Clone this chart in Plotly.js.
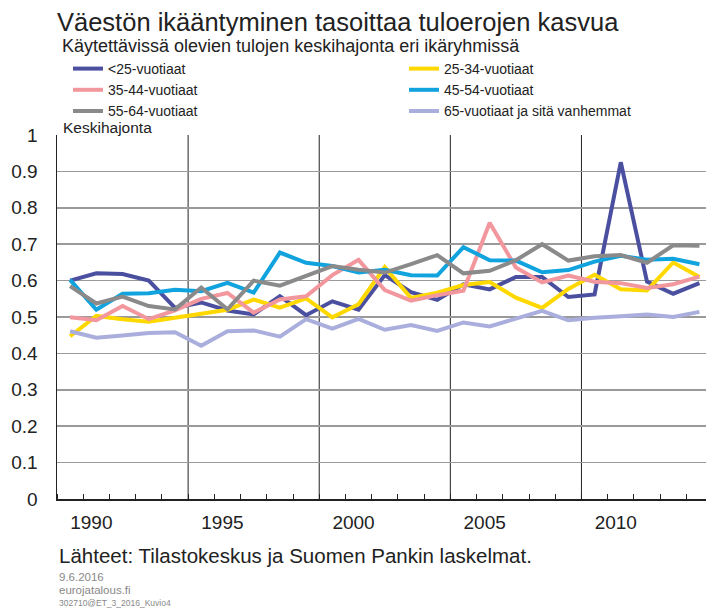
<!DOCTYPE html>
<html>
<head>
<meta charset="utf-8">
<script src="https://cdn.plot.ly/plotly-3.0.1.min.js"></script>
<style>
html,body{margin:0;padding:0;background:#fff;}
#chart{width:706px;height:610px;}
</style>
</head>
<body>
<div id="chart"></div>
<script>
// vuodet 1989-2013
var years = [];
for (var y = 1989; y <= 2013; y++) { years.push(y); }

var alle25  = [0.600,0.620,0.618,0.600,0.525,0.540,0.518,0.507,0.557,0.505,0.543,0.520,0.615,0.568,0.547,0.590,0.576,0.610,0.610,0.555,0.562,0.925,0.597,0.564,0.593];
var v25_34  = [0.447,0.503,0.494,0.487,0.498,0.508,0.520,0.548,0.526,0.551,0.499,0.535,0.637,0.552,0.567,0.588,0.596,0.553,0.525,0.577,0.616,0.576,0.573,0.650,0.610];
var v35_44  = [0.499,0.491,0.530,0.494,0.518,0.550,0.566,0.512,0.548,0.557,0.615,0.657,0.574,0.545,0.560,0.572,0.759,0.636,0.595,0.614,0.597,0.593,0.580,0.590,0.611];
var v45_54  = [0.602,0.520,0.564,0.565,0.575,0.571,0.594,0.567,0.677,0.649,0.640,0.622,0.630,0.615,0.614,0.692,0.656,0.655,0.623,0.629,0.652,0.668,0.657,0.660,0.645];
var v55_64  = [0.585,0.537,0.556,0.530,0.521,0.581,0.521,0.600,0.586,0.612,0.640,0.630,0.622,0.645,0.670,0.620,0.627,0.656,0.700,0.655,0.667,0.670,0.649,0.697,0.696];
var yli65   = [0.461,0.443,0.449,0.456,0.458,0.421,0.461,0.463,0.446,0.494,0.468,0.495,0.465,0.478,0.462,0.485,0.474,0.495,0.517,0.491,0.498,0.502,0.507,0.500,0.514];

var names  = ['<25-vuotiaat','25-34-vuotiaat','35-44-vuotiaat','45-54-vuotiaat','55-64-vuotiaat','65-vuotiaat ja sitä vanhemmat'];
var series = [alle25, v25_34, v35_44, v45_54, v55_64, yli65];
var colors = ['#4b4f9f','#ffd800','#f2979d','#10a3de','#8a8a8a','#aaaedc'];
// vasen sarake legend, oikea legend2
var legendOf = ['legend','legend2','legend','legend2','legend','legend2'];

var yTickVals = [0,0.1,0.2,0.3,0.4,0.5,0.6,0.7,0.8,0.9,1];
var yTickText = ['0','0.1','0.2','0.3','0.4','0.5','0.6','0.7','0.8','0.9','1'];
var xTickVals = [1990,1995,2000,2005,2010];
// pystyviivat vuosien välissä
var vLines = [1993.5,1998.5,2003.5,2008.5];

var font = 'Liberation Sans, Arial, sans-serif';

// pikseli -> paper
var L = 57, R = 706, T = 135, B = 499;
function py(p){ return (B - p)/(B - T); }

var traces = [];
for (var i = 0; i < series.length; i++) {
    traces.push({
        x: years,
        y: series[i],
        type: 'scatter',
        mode: 'lines',
        name: names[i],
        legend: legendOf[i],
        line: {color: colors[i], width: 4}
    });
}

var shapes = vLines.map(function(v){
    return {type:'line', xref:'x', yref:'paper', x0:v, x1:v, y0:0, y1:1,
            line:{color:'#222', width:1}, layer:'below'};
});

var legendBase = {
    xref: 'container', yref: 'container',
    xanchor: 'left', y: 1 - 53/610, yanchor: 'top',
    font: {size: 14, color: '#222'},
    bgcolor: 'rgba(0,0,0,0)', traceorder: 'normal'
};

var layout = {
    width: 706, height: 610,
    margin: {l: L, r: 0, t: T, b: 610 - B, autoexpand: false},
    paper_bgcolor: '#fff', plot_bgcolor: '#fff',
    font: {family: font, color: '#222'},
    showlegend: true,
    title: {
        text: 'Väestön ikääntyminen tasoittaa tuloerojen kasvua',
        font: {size: 25.5, color: '#222'},
        xref: 'container', yref: 'container',
        x: 57/706, xanchor: 'left', y: 1 - 22/610, yanchor: 'middle'
    },
    legend: Object.assign({}, legendBase, {x: 68/706}),
    legend2: Object.assign({}, legendBase, {x: 404/706}),
    xaxis: {
        range: [1988.5, 2013.25],
        tickvals: xTickVals,
        ticks: '',
        showgrid: false, zeroline: false,
        showline: true, linecolor: '#222', linewidth: 1.5,
        tickfont: {size: 19, color: '#222'},
        ticklabelshift: -5, ticklabelstandoff: 6,
        minor: {tick0: 1988.5, dtick: 1, ticks: 'inside', ticklen: 5, tickcolor: '#222', tickwidth: 1, showgrid: false}
    },
    yaxis: {
        range: [0, 1],
        tickvals: yTickVals, ticktext: yTickText,
        ticks: '',
        showgrid: true, gridcolor: '#9a9a9a', gridwidth: 1.5,
        zeroline: false,
        showline: true, linecolor: '#222', linewidth: 1.5,
        tickfont: {size: 19, color: '#222'},
        ticklabelstandoff: 14
    },
    shapes: shapes,
    annotations: [
        {text: 'Käytettävissä olevien tulojen keskihajonta eri ikäryhmissä', xref: 'paper', yref: 'paper',
         x: 3/649, y: py(46), xanchor: 'left', yanchor: 'middle', showarrow: false,
         font: {size: 18, color: '#222'}},
        {text: 'Keskihajonta', xref: 'paper', yref: 'paper',
         x: 4/649, y: py(127), xanchor: 'left', yanchor: 'middle', showarrow: false,
         font: {size: 15.5, color: '#222'}},
        {text: 'Lähteet: Tilastokeskus ja Suomen Pankin laskelmat.', xref: 'paper', yref: 'paper',
         x: 0, y: py(555), xanchor: 'left', yanchor: 'middle', showarrow: false,
         font: {size: 20.5, color: '#222'}},
        {text: '9.6.2016', xref: 'paper', yref: 'paper',
         x: 0, y: py(577), xanchor: 'left', yanchor: 'middle', showarrow: false,
         font: {size: 11.5, color: '#888'}},
        {text: 'eurojatalous.fi', xref: 'paper', yref: 'paper',
         x: 0, y: py(590), xanchor: 'left', yanchor: 'middle', showarrow: false,
         font: {size: 11.5, color: '#888'}},
        {text: '302710@ET_3_2016_Kuvio4', xref: 'paper', yref: 'paper',
         x: 0, y: py(603), xanchor: 'left', yanchor: 'middle', showarrow: false,
         font: {size: 8.5, color: '#888'}}
    ]
};

Plotly.newPlot('chart', traces, layout, {displayModeBar: false, staticPlot: true});
</script>
</body>
</html>
